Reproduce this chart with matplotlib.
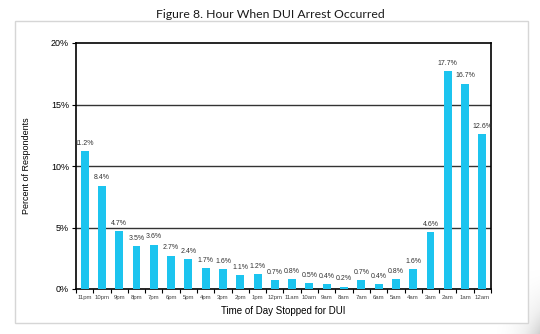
import matplotlib
matplotlib.use("Agg")
import matplotlib.pyplot as plt
import numpy as np
from matplotlib.patches import Rectangle

# hour of arrest, from 11pm back around to 12am
hours = ["11pm", "10pm", "9pm", "8pm", "7pm", "6pm", "5pm", "4pm", "3pm", "2pm",
         "1pm", "12pm", "11am", "10am", "9am", "8am", "7am", "6am", "5am", "4am",
         "3am", "2am", "1am", "12am"]
percent = [11.2, 8.4, 4.7, 3.5, 3.6, 2.7, 2.4, 1.7, 1.6, 1.1,
           1.2, 0.7, 0.8, 0.5, 0.4, 0.2, 0.7, 0.4, 0.8, 1.6,
           4.6, 17.7, 16.7, 12.6]
yticks = [0, 5, 10, 15, 20]

fig = plt.figure(figsize=(5.4, 3.34), dpi=100)
fig.patch.set_facecolor("white")

# soft page shadow at the lower right corner (darker towards the corner)
sh = fig.add_axes([490 / 540, 0, 50 / 540, 70 / 334], zorder=-2)
gx = np.linspace(0, 1, 60)
gy = np.linspace(0, 1, 70)
grad = np.outer(gy ** 1.8, gx ** 2.2)
sh.imshow(grad, cmap="Greys", vmin=0, vmax=3.5, aspect="auto", interpolation="bilinear")
sh.axis("off")

# light frame round the chart, white inside
fig.patches.append(Rectangle((15 / 540, 1 - 323 / 334), 513 / 540, 302 / 334,
                             transform=fig.transFigure, facecolor="white",
                             edgecolor="#d6d6d6", linewidth=1.0, zorder=-1))

fig.text(0.5, 1 - 14 / 334, "Figure 8. Hour When DUI Arrest Occurred",
         ha="center", va="center", fontsize=8.8, family="Lato", color="#1a1a1a")

ax = fig.add_axes([76 / 540, 1 - 289 / 334, 415 / 540, 246 / 334], zorder=1)
ax.patch.set_alpha(0)
x = np.arange(len(hours))
ax.bar(x, percent, width=0.46, color="#1cc4ef", zorder=3)

for xi, v in zip(x, percent):
    ax.text(xi, v + 0.35, f"{v}%", ha="center", va="bottom",
            fontsize=5, family="Liberation Sans", color="#333333", zorder=4)

ax.set_xlim(-0.5, len(hours) - 0.5)
ax.set_ylim(0, 20)
ax.set_yticks(yticks)
ax.set_yticklabels([f"{t}%" for t in yticks], family="Liberation Sans", fontsize=6.5)
for t in yticks[1:-1]:
    ax.axhline(t, color="#333333", linewidth=1.0, zorder=1)

ax.set_xticks(x)
ax.set_xticklabels(hours, family="Liberation Sans", fontsize=4.3, color="#444444")
ax.tick_params(axis="x", which="major", length=0, pad=4)
ax.set_xticks(np.arange(-0.5, len(hours)), minor=True)
ax.tick_params(axis="x", which="minor", length=3, width=0.8, direction="out")
ax.tick_params(axis="y", length=3, width=0.8, pad=2)

for s in ax.spines.values():
    s.set_linewidth(1.2)
    s.set_color("black")

ax.set_xlabel("Time of Day Stopped for DUI", family="Liberation Sans", fontsize=7, labelpad=5)
ax.set_ylabel("Percent of Respondents", family="Liberation Sans", fontsize=6.5, labelpad=14)

fig.savefig("out.png", dpi=100)
